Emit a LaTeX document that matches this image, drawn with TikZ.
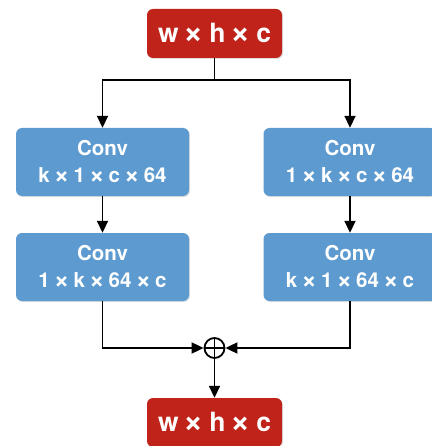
\documentclass[tikz,border=0pt]{standalone}
\usepackage{fontspec}
\setmainfont{TeX Gyre Heros}
\usetikzlibrary{arrows.meta,shadows}
\definecolor{boxred}{RGB}{192,35,26}
\definecolor{boxblue}{RGB}{92,154,207}
\newcommand{\tm}{\hspace{0.2em}\raisebox{-0.06em}{\scalebox{1.3}{×}}\hspace{0.2em}}
\begin{document}
\begin{tikzpicture}[x=1pt,y=-1pt,
  redbox/.style={fill=boxred,rounded corners=6pt,minimum width=135pt,minimum height=49pt,inner sep=0pt,
    text=white,font=\bfseries\fontsize{26.5}{32}\selectfont,drop shadow={opacity=0.25,shadow xshift=1pt,shadow yshift=-1pt}},
  bluebox/.style={fill=boxblue,rounded corners=6pt,minimum width=173pt,minimum height=68pt,inner sep=0pt,
    text=white,font=\bfseries\fontsize{20.5}{27}\selectfont,align=center,drop shadow={opacity=0.25,shadow xshift=1pt,shadow yshift=-1pt}},
  conn/.style={line width=1.8pt,-{Triangle[length=12pt,width=11pt]}},
  line/.style={line width=1.8pt}]
\useasboundingbox (0,0) rectangle (431,446);
\node[redbox] (top) at (214.5,33.5) {w\tm h\tm c};
\node[bluebox] (l1) at (102.5,162) {Conv\\k\tm 1\tm c\tm 64};
\node[bluebox] (r1) at (350,162) {Conv\\1\tm k\tm c\tm 64};
\node[bluebox] (l2) at (102.5,267) {Conv\\1\tm k\tm 64\tm c};
\node[bluebox] (r2) at (350,267) {Conv\\k\tm 1\tm 64\tm c};
\node[draw,circle,line width=1.8pt,minimum size=20pt,inner sep=0pt] (sum) at (214.5,348) {};
\draw[line width=1.8pt] (sum.north) -- (sum.south) (sum.west) -- (sum.east);
\node[redbox] (bot) at (214.5,422.5) {w\tm h\tm c};
\coordinate (split) at (214.5,80);
\draw[line] (top.south) -- (split);
\draw[conn] (split) -| (l1.north);
\draw[conn] (split) -| (r1.north);
\draw[conn] (l1) -- (l2);
\draw[conn] (r1) -- (r2);
\draw[conn] (l2.south) |- (sum.west);
\draw[conn] (r2.south) |- (sum.east);
\draw[conn] (sum) -- (bot);
\end{tikzpicture}
\end{document}
